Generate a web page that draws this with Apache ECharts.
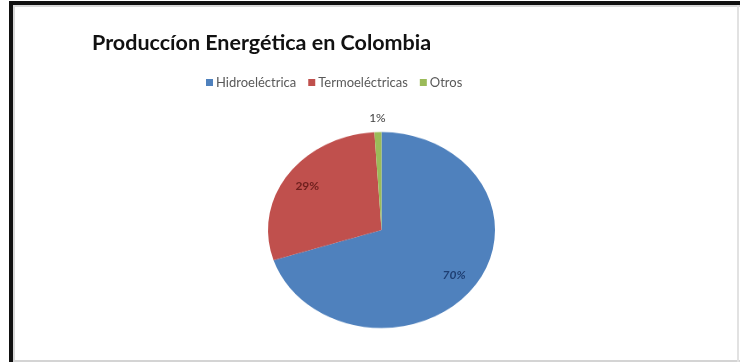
<!DOCTYPE html>
<html>
<head>
<meta charset="utf-8">
<script src="https://cdn.jsdelivr.net/npm/echarts@6/dist/echarts.min.js"></script>
<style>
  html, body { margin: 0; padding: 0; background: #ffffff; }
  #wrap { position: relative; width: 740px; height: 362px; overflow: hidden; background: #fff; }
  #pie, #main { position: absolute; left: 0; top: 0; width: 740px; height: 362px; }
  #pie { transform: scaleY(0.8634); transform-origin: 0 230px; }
  .bar { position: absolute; }
</style>
</head>
<body>
<div id="wrap">
  <div id="pie"></div>
  <div id="main"></div>
  <div class="bar" style="left:9px;top:1px;width:731px;height:4px;background:#111;"></div>
  <div class="bar" style="left:9px;top:1px;width:4px;height:361px;background:#111;"></div>
  <div class="bar" style="left:13px;top:5px;width:727px;height:2px;background:#d8d8d8;"></div>
  <div class="bar" style="left:13px;top:5px;width:2px;height:357px;background:#d8d8d8;"></div>
  <div class="bar" style="left:13px;top:360px;width:727px;height:2px;background:#d4d4d4;"></div>
  <div class="bar" style="left:737px;top:5px;width:2px;height:357px;background:#e2e2e2;"></div>
</div>
<script>
const titleText = 'Produccíon Energética en Colombia';
const categories = ['Hidroeléctrica', 'Termoeléctricas', 'Otros'];
const values = [70, 29, 1];
const colors = ['#4F81BD', '#C0504D', '#9BBB59'];
const labelColors = ['#1F3F73', '#6E1F1D', '#404040'];

const CX = 381.5, CY = 230, R = 113.5, K = 0.8634;

const pieChart = echarts.init(document.getElementById('pie'), null, { renderer: 'canvas' });
pieChart.setOption({
  animation: false,
  series: [{
    type: 'pie',
    center: [CX, CY],
    radius: [0, R],
    startAngle: 90,
    clockwise: true,
    silent: true,
    label: { show: false },
    labelLine: { show: false },
    itemStyle: { borderWidth: 0 },
    data: categories.map((c, i) => ({ name: c, value: values[i], itemStyle: { color: colors[i] } }))
  }]
});

const chart = echarts.init(document.getElementById('main'), null, { renderer: 'canvas' });
chart.setOption({
  animation: false,
  backgroundColor: 'transparent',
  title: {
    text: titleText,
    left: 92,
    top: 32,
    padding: 0,
    textStyle: { fontFamily: 'Lato', fontWeight: 'bold', fontSize: 21.5, color: '#111111' }
  },
  legend: {
    left: 201,
    top: 71,
    itemWidth: 7,
    itemHeight: 7,
    itemGap: 12,
    icon: 'rect',
    textStyle: { fontFamily: 'Lato', fontSize: 13, color: '#595959', padding: [0, 0, 0, -2] },
    data: categories.map((c, i) => ({ name: c, itemStyle: { color: colors[i], opacity: 1 } }))
  },
  series: [{
    type: 'pie',
    center: [CX, CY],
    radius: [60, R],
    startAngle: 90,
    clockwise: true,
    silent: true,
    labelLine: { show: false, length: 16, length2: 0 },
    data: categories.map((c, i) => ({
      name: c,
      value: values[i],
      itemStyle: { color: 'rgba(0,0,0,0)' },
      label: {
        show: true,
        position: i === 2 ? 'outside' : 'inside',
        formatter: '{d}%',
        fontFamily: 'Lato',
        fontSize: 12,
        fontWeight: i === 2 ? 'normal' : 'bold',
        fontStyle: i === 0 ? 'italic' : 'normal',
        color: labelColors[i]
      }
    })),
    labelLayout: function (params) {
      const r = params.labelRect;
      let mx = r.x + r.width / 2;
      const my = r.y + r.height / 2;
      if (params.dataIndex === 2 && params.labelLinePoints && params.labelLinePoints.length) {
        const p = params.labelLinePoints[params.labelLinePoints.length - 1];
        mx = p[0];
      }
      return {
        x: mx,
        y: CY + (my - CY) * K,
        align: 'center',
        verticalAlign: 'middle'
      };
    }
  }]
});
</script>
</body>
</html>
